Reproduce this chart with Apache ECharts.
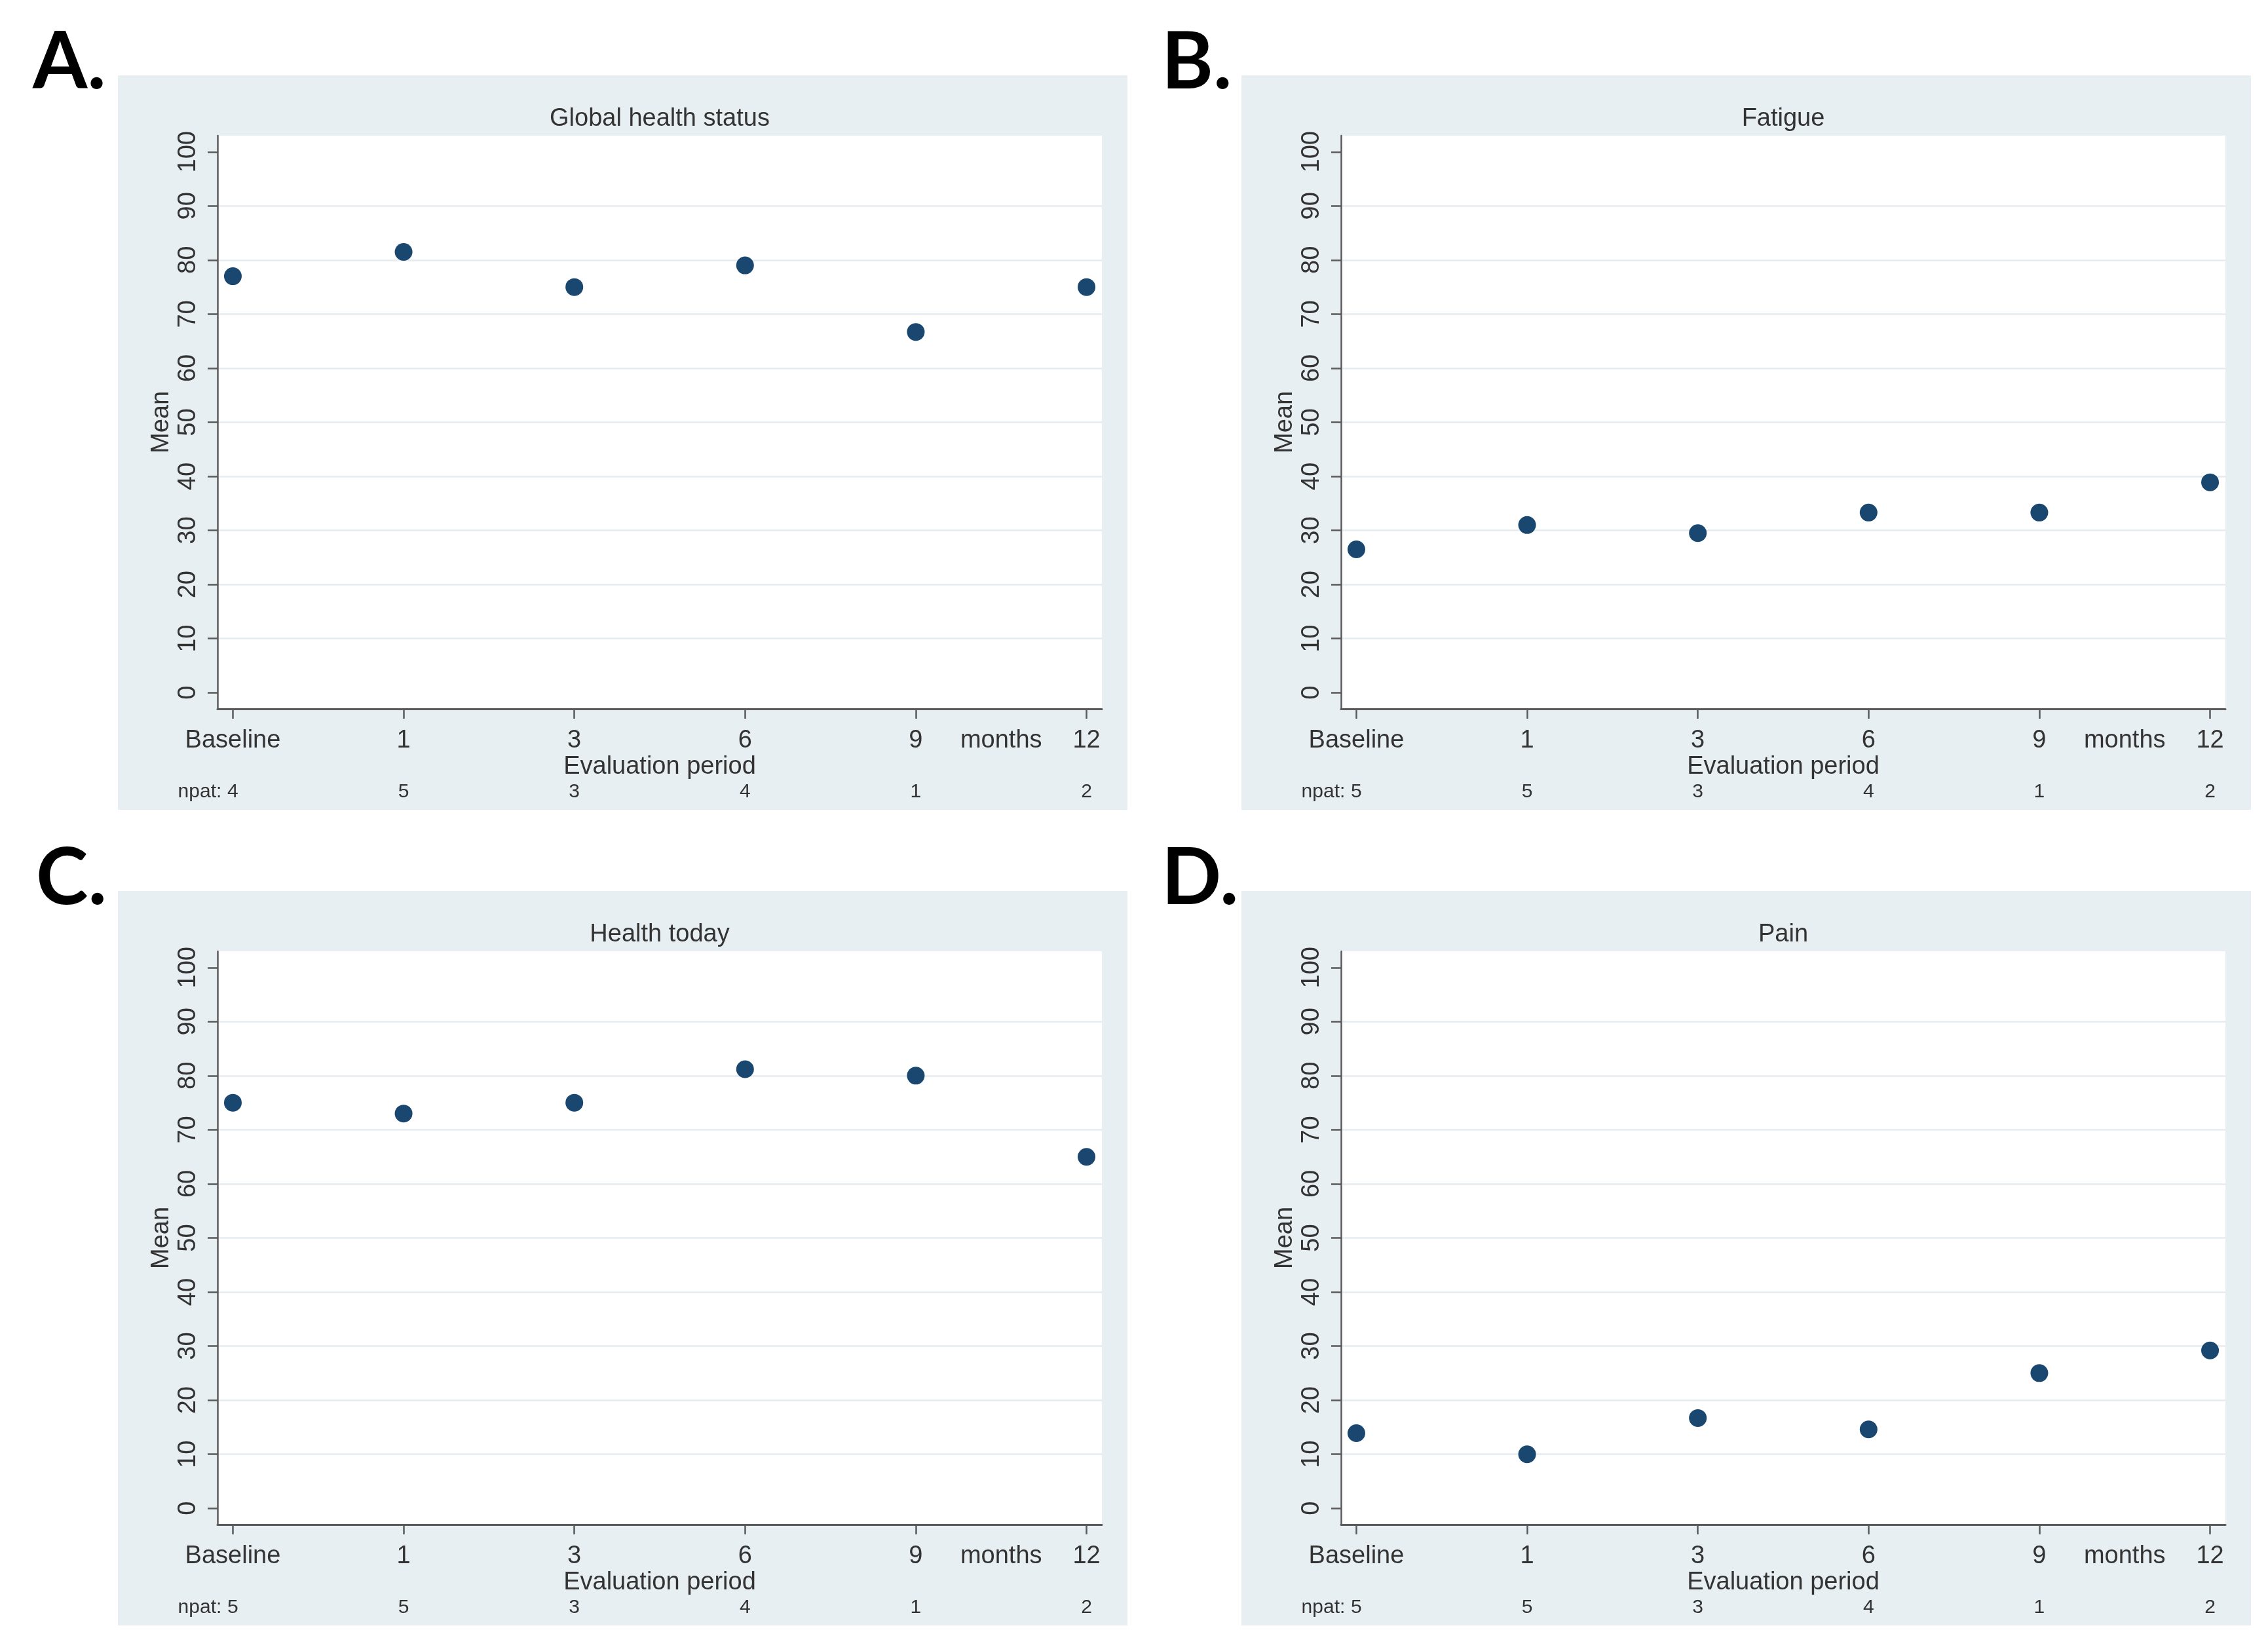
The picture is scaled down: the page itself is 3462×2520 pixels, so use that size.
<!DOCTYPE html>
<html><head><meta charset="utf-8">
<script src="https://cdn.jsdelivr.net/npm/echarts@6/dist/echarts.min.js"></script>
<style>html,body{margin:0;padding:0;background:#fff}#c{width:3462px;height:2520px}</style>
</head><body><div id="c"></div>
<script>
// ---- data ----
const categories = ['Baseline', '1', '3', '6', '9', '12'];
const unitLabel = 'months';
const unitLabelAt = 4.5;
const yTicks = [0, 10, 20, 30, 40, 50, 60, 70, 80, 90, 100];
const panelLetters = ['A.', 'B.', 'C.', 'D.'];
const panelTitles = ['Global health status', 'Fatigue', 'Health today', 'Pain'];
const globalHealth = [77, 81.5, 75, 79, 66.7, 75];
const fatigue = [26.5, 31, 29.5, 33.3, 33.3, 38.9];
const healthToday = [75, 73, 75, 81.2, 80, 65];
const pain = [13.9, 10, 16.7, 14.6, 25, 29.2];
const npatGlobal = [4, 5, 3, 4, 1, 2];
const npatFatigue = [5, 5, 3, 4, 1, 2];
const npatHealth = [5, 5, 3, 4, 1, 2];
const npatPain = [5, 5, 3, 4, 1, 2];
const xTitle = 'Evaluation period';
const yTitle = 'Mean';
const npatPrefix = 'npat: ';

const panelValues = [globalHealth, fatigue, healthToday, pain];
const panelNpat = [npatGlobal, npatFatigue, npatHealth, npatPain];

// ---- styling / layout ----
const FONT = '"Liberation Sans", Arial, sans-serif';
const TXT = '#333333';
const AX = '#5a5a5a';
const BOXC = '#e8eff2';
const GRIDC = '#e5ebee';
const MARK = '#1a476f';
const DX = 1715, DY = 1245;
const letterX = [50, 1773, 55, 1773];

const chart = echarts.init(document.getElementById('c'));
const grids = [], xAxes = [], yAxes = [], series = [], graphics = [];
const tickIdx = categories.map((c, i) => i);
const labelIdx = tickIdx.slice(0, 5).concat([unitLabelAt, 5]);

for (let p = 0; p < 4; p++) {
  const col = p % 2, row = Math.floor(p / 2);
  const ox = col * DX, oy = row * DY;
  const gl = 332 + ox, gt = 207 + oy, gw = 1350, gh = 875;
  graphics.push({ type: 'rect', z: -1, shape: { x: 180 + ox, y: 115 + oy, width: 1541, height: 1121 },
    style: { fill: BOXC } });
  graphics.push({ type: 'text', x: letterX[p], y: 96 + oy,
    style: { text: panelLetters[p], font: 'bold 120px Lato, "Open Sans", sans-serif', fill: '#000', align: 'left', verticalAlign: 'middle' } });
  graphics.push({ type: 'text', x: gl + gw / 2, y: 182 + oy,
    style: { text: panelTitles[p], font: '38px ' + FONT, fill: TXT, align: 'center', verticalAlign: 'middle' } });

  grids.push({ left: gl, top: gt, width: gw, height: gh, show: true, backgroundColor: '#ffffff', borderWidth: 0, containLabel: false });
  const npat = panelNpat[p];
  xAxes.push({
    type: 'value', gridIndex: p, min: -0.09, max: 5.09, position: 'bottom',
    name: xTitle, nameLocation: 'middle', nameGap: 70,
    nameTextStyle: { fontFamily: FONT, fontSize: 38, color: TXT },
    axisLine: { show: true, onZero: false, lineStyle: { color: AX, width: 3 } },
    axisTick: { show: true, length: 15, customValues: tickIdx, lineStyle: { color: AX, width: 2.5 } },
    axisLabel: { show: true, margin: 30, customValues: labelIdx, fontFamily: FONT, fontSize: 38, color: TXT,
      formatter: v => (v === unitLabelAt ? unitLabel : categories[Math.round(v)]) },
    splitLine: { show: false }
  });
  xAxes.push({
    type: 'value', gridIndex: p, min: -0.09, max: 5.09, position: 'bottom', offset: 85,
    axisLine: { show: false }, axisTick: { show: false }, splitLine: { show: false },
    axisLabel: { show: true, margin: 27, customValues: tickIdx, fontFamily: FONT, fontSize: 30, color: TXT,
      formatter: v => { const i = Math.round(v); return i === 0 ? '{pre|' + npatPrefix + '}' + npat[i] + '{post| }' : String(npat[i]); },
      rich: { pre: { width: 76, align: 'right', fontFamily: FONT, fontSize: 30, color: TXT },
              post: { width: 76, fontFamily: FONT, fontSize: 30, color: TXT } } }
  });
  yAxes.push({
    type: 'value', gridIndex: p, min: -3, max: 103,
    name: yTitle, nameLocation: 'middle', nameGap: 66,
    nameTextStyle: { fontFamily: FONT, fontSize: 38, color: TXT },
    axisLine: { show: true, onZero: false, lineStyle: { color: AX, width: 2.5 } },
    axisTick: { show: true, length: 15, customValues: yTicks, lineStyle: { color: AX, width: 2.5 } },
    axisLabel: { show: true, rotate: 90, margin: 25, customValues: yTicks, fontFamily: FONT, fontSize: 38, color: TXT },
    splitLine: { show: true, showMinLine: false, showMaxLine: false, lineStyle: { color: GRIDC, width: 2.5 } }
  });
  series.push({
    type: 'scatter', xAxisIndex: 2 * p, yAxisIndex: p, symbol: 'circle', symbolSize: 27,
    itemStyle: { color: MARK, opacity: 1 },
    data: panelValues[p].map((v, i) => [i, v])
  });
}

chart.setOption({
  backgroundColor: '#ffffff', animation: false,
  grid: grids, xAxis: xAxes, yAxis: yAxes, series: series,
  graphic: { elements: graphics }
});
</script></body></html>
